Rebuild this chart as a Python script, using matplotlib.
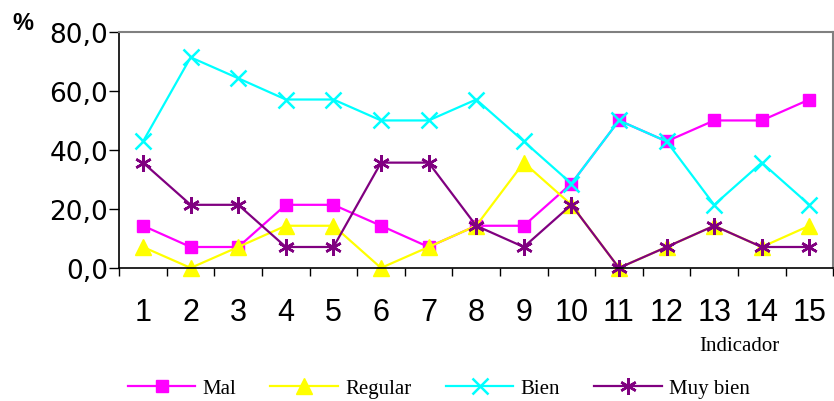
import numpy as np
import matplotlib.pyplot as plt

# datos (porcentaje por indicador)
indicadores = [str(i) for i in range(1, 16)]
mal = [14.3, 7.1, 7.1, 21.4, 21.4, 14.3, 7.1, 14.3, 14.3, 28.6, 50.0, 42.9, 50.0, 50.0, 57.1]
regular = [7.1, 0.0, 7.1, 14.3, 14.3, 0.0, 7.1, 14.3, 35.7, 21.4, 0.0, 7.1, 14.3, 7.1, 14.3]
bien = [42.9, 71.4, 64.3, 57.1, 57.1, 50.0, 50.0, 57.1, 42.9, 28.6, 50.0, 42.9, 21.4, 35.7, 21.4]
muy_bien = [35.7, 21.4, 21.4, 7.1, 7.1, 35.7, 35.7, 14.3, 7.1, 21.4, 0.0, 7.1, 14.3, 7.1, 7.1]

fig = plt.figure(figsize=(8.34, 4.02), dpi=100)
ax = fig.add_axes([0.143, 0.331, 0.856, 0.587])

x = np.arange(len(indicadores)) + 0.5
ax.plot(x, mal, color="#ff00ff", marker="s", markersize=9, lw=1.6, label="Mal", clip_on=False)
ax.plot(x, regular, color="#ffff00", marker="^", markersize=11, lw=1.6, label="Regular", clip_on=False)
ax.plot(x, bien, color="#00ffff", marker="x", markersize=11, mew=1.8, lw=1.6, label="Bien", clip_on=False)
ax.plot(x, muy_bien, color="#800080", marker=(6, 2, 0), markersize=12, mew=1.8, lw=1.6, label="Muy bien", clip_on=False)

ax.set_xlim(0, 15)
ax.set_ylim(0, 80)
ax.set_yticks([0, 20, 40, 60, 80])
ax.set_yticklabels(["0,0", "20,0", "40,0", "60,0", "80,0"], fontsize=19, fontfamily="DejaVu Sans")

# ticks entre categorias, etiquetas al centro
ax.set_xticks(np.arange(0, 16))
ax.set_xticklabels([])
ax.set_xticks(x, minor=True)
ax.set_xticklabels(indicadores, minor=True, fontsize=22, fontfamily="Liberation Sans")
ax.tick_params(axis="x", which="major", length=6, width=1)
ax.tick_params(axis="x", which="minor", length=0, pad=21)
ax.tick_params(axis="y", length=7, width=1, pad=1)

ax.spines["top"].set_color("#808080")
ax.spines["right"].set_color("#808080")
ax.spines["top"].set_linewidth(1.5)
ax.spines["right"].set_linewidth(1.5)
ax.spines["left"].set_linewidth(1.2)
ax.spines["bottom"].set_linewidth(1.2)

fig.text(12 / 834, 1 - 12 / 402, "%", fontsize=17, fontweight="bold", fontfamily="Liberation Sans", va="top")
fig.text(0.839, 0.138, "Indicador", fontsize=15, fontfamily="Liberation Serif", va="center")

fig.legend(loc="center", bbox_to_anchor=(0.526, 0.032), ncol=4, frameon=False,
           prop={"family": "Liberation Serif", "size": 15}, handlelength=3.25,
           handletextpad=0.33, columnspacing=1.65, borderpad=0)

fig.savefig("out.png", dpi=100)
